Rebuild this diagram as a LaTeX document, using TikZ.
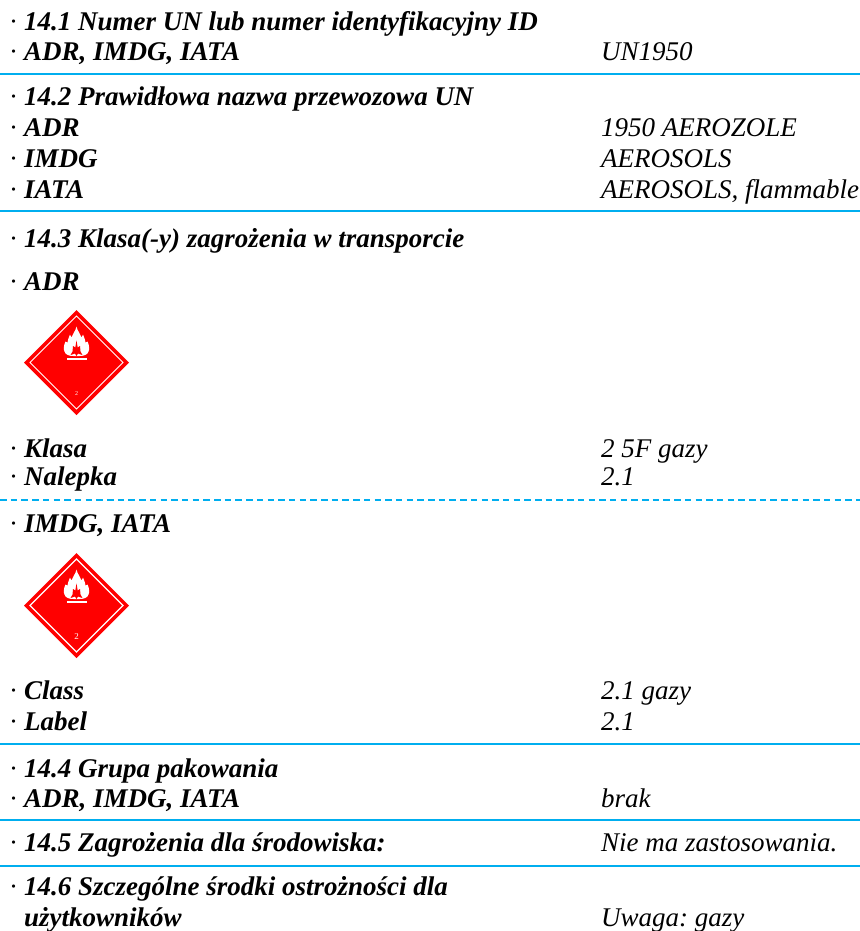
\documentclass[tikz,border=0pt]{standalone}
\usepackage{fontspec}
\setmainfont{Liberation Serif}
\definecolor{rulecol}{RGB}{0,174,239}
\definecolor{placardred}{RGB}{255,0,0}
\tikzset{
  lab/.style={anchor=base west,inner sep=0pt,font=\fontsize{27.1}{27}\selectfont\bfseries\itshape},
  val/.style={anchor=base west,inner sep=0pt,font=\fontsize{27.1}{27}\selectfont\itshape},
  sep/.style={draw=rulecol,line width=1.3pt},
  sepd/.style={draw=rulecol,line width=1.3pt,dash pattern=on 6.5bp off 4.2bp},
  pics/placard/.style={code={
    \fill[placardred] (0,-52.5) -- (52.5,0) -- (0,52.5) -- (-52.5,0) -- cycle;
    \draw[white,line width=#1] (0,-46.5) -- (46.5,0) -- (0,46.5) -- (-46.5,0) -- cycle;
    \fill[white] (0,-36) .. controls (1,-31) and (4,-29) .. (5,-25)
      -- (6.5,-28) .. controls (8,-24) and (9,-22) .. (9,-20)
      -- (11,-21) .. controls (13,-17) and (13,-13) .. (12,-11)
      .. controls (11,-8) and (8,-6.5) .. (3,-6.5) -- (-3,-6.5)
      .. controls (-8,-6.5) and (-11,-8) .. (-12,-11)
      .. controls (-13,-13) and (-13,-17) .. (-11,-21)
      -- (-9,-20) .. controls (-9,-22) and (-8,-24) .. (-6.5,-28)
      -- (-5,-25) .. controls (-4,-29) and (-1,-31) .. (0,-36) -- cycle;
    \fill[placardred] (0,-22) -- (1.2,-15) -- (3.5,-16.5) -- (4,-11) -- (6,-7.5) -- (1.5,-9) -- (0,-6.5)
      -- (-1.5,-9) -- (-6,-7.5) -- (-4,-11) -- (-3.5,-16.5) -- (-1.2,-15) -- cycle;
    \fill[white] (-10,-4.5) rectangle (10,-2.5);
  }}
}
\begin{document}
\frenchspacing
\begin{tikzpicture}[x=1bp,y=-1bp]
\useasboundingbox (0,0) rectangle (860,931);
\foreach \n/\y/\t in {
 a/30.7/{14.1 Numer UN lub numer identyfikacyjny ID},
 b/60.7/{ADR, IMDG, IATA},
 c/105.7/{14.2 Prawidłowa nazwa przewozowa UN},
 d/136/{ADR},
 e/167/{IMDG},
 f/198/{IATA},
 g/247/{14.3 Klasa(-y) zagrożenia w transporcie},
 h/290/{ADR},
 i/457/{Klasa},
 j/485.7/{Nalepka},
 k/532.5/{IMDG, IATA},
 l/699.5/{Class},
 m/730/{Label},
 n/777.5/{14.4 Grupa pakowania},
 o/807.5/{ADR, IMDG, IATA},
 p/851.7/{14.5 Zagrożenia dla środowiska:},
 q/895.7/{14.6 Szczególne środki ostrożności dla},
 r/926.7/{użytkowników}}
 {\node[lab] (l\n) at (24,\y) {\t};}
\foreach \n/\y in {a/30.7,b/60.7,c/105.7,d/136,e/167,f/198,g/247,h/290,i/457,j/485.7,k/532.5,l/699.5,m/730,n/777.5,o/807.5,p/851.7,q/895.7}
 {\node[val,anchor=base] (d\n) at (13.2,\y) {\textperiodcentered};}
\foreach \n/\y/\t in {
 a/60.7/{UN1950},
 b/136/{1950 AEROZOLE},
 c/167/{AEROSOLS},
 d/198/{AEROSOLS, flammable},
 e/457/{2 5F gazy},
 f/485.7/{2.1},
 g/699.5/{2.1 gazy},
 h/730/{2.1},
 i/807.5/{brak},
 j/851.7/{Nie ma zastosowania.},
 k/926.7/{Uwaga: gazy}}
 {\node[val] (v\n) at (601,\y) {\t};}
\foreach \n/\y in {a/74,b/211,d/744,e/820,f/866}{
 \coordinate (s\n) at (0,\y); \coordinate (t\n) at (860,\y);
 \draw[sep] (s\n) -- (t\n);}
\coordinate (sc) at (0,500); \coordinate (tc) at (860,500);
\draw[sepd] (sc) -- (tc);
\path (76.5,362.5) pic {placard=1pt};
\path (76.5,605.5) pic {placard=1.4pt};
\node[white,inner sep=0pt,font=\fontsize{6}{6}\selectfont] (twoa) at (76.5,394) {2};
\node[white,inner sep=0pt,font=\fontsize{9}{9}\selectfont] (twob) at (76.5,637) {2};
\end{tikzpicture}
\end{document}
